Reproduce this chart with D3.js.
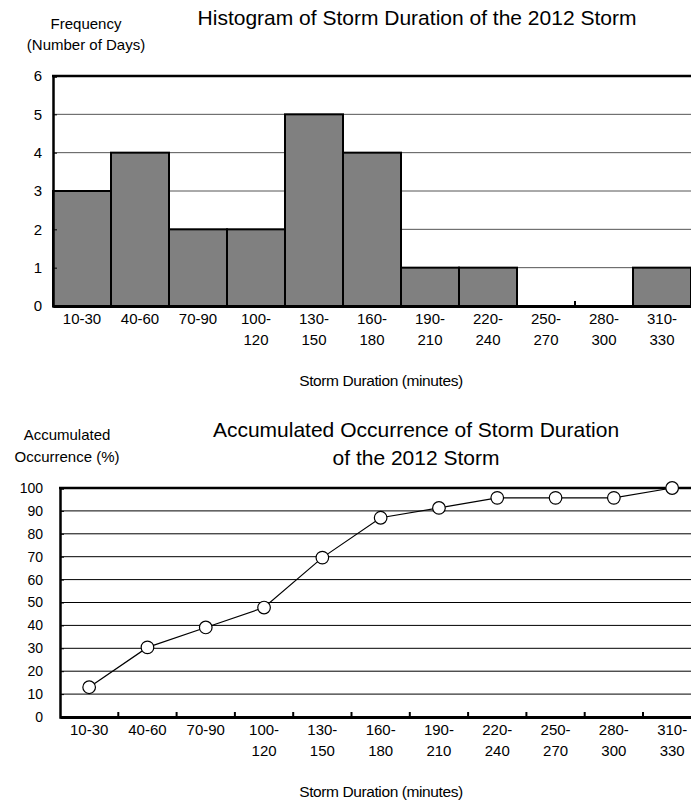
<!DOCTYPE html>
<html>
<head>
<meta charset="utf-8">
<script src="https://cdn.jsdelivr.net/npm/d3@7"></script>
<style>
  body { margin: 0; background: #fff; }
  svg text { font-family: "Liberation Sans", Arial, sans-serif; fill: #000; }
</style>
</head>
<body>
<div class="canva"></div>
<script>
// data
const durations = ['10-30', '40-60', '70-90', '100-120', '130-150', '160-180',
                   '190-210', '220-240', '250-270', '280-300', '310-330']
const days = [3, 4, 2, 2, 5, 4, 1, 1, 0, 0, 1]
const accumulated = [13.0, 30.4, 39.1, 47.8, 69.6, 87.0, 91.3, 95.7, 95.7, 95.7, 100]
const freqTicks = [0, 1, 2, 3, 4, 5, 6]
const accTicks = [0, 10, 20, 30, 40, 50, 60, 70, 80, 90, 100]

const W = 691, H = 800
const svg = d3.select('.canva').append('svg')
              .attr('width', W)
              .attr('height', H)

// split "100-120" into two lines like the original
function catLabel(sel) {
  sel.each(function(d) {
    const t = d3.select(this)
    t.text(null)
    const parts = d.split('-')
    if (Number(parts[0]) < 100) {
      t.append('tspan').attr('x', 0).attr('dy', 0).text(d)
    } else {
      t.append('tspan').attr('x', 0).attr('dy', 0).text(parts[0] + '-')
      t.append('tspan').attr('x', 0).attr('dy', 21).text(parts[1])
    }
  })
}

function label(x, y, size, txt) {
  return svg.append('text')
            .attr('x', x).attr('y', y)
            .attr('text-anchor', 'middle')
            .style('font-size', size + 'px')
            .text(txt)
}

//---------------- Histogram ----------------
const top1 = { left: 53, right: 691, top: 76, bottom: 306 }

const x1 = d3.scaleBand()
             .domain(durations)
             .range([top1.left, top1.right])
             .padding(0)
const y1 = d3.scaleLinear()
             .domain([0, 6])
             .range([top1.bottom, top1.top])

const g1 = svg.append('g')

// gridlines
g1.selectAll('.grid')
  .data(freqTicks.filter(d => d > 0 && d < 6))
  .enter()
  .append('line')
  .attr('x1', top1.left).attr('x2', top1.right)
  .attr('y1', d => y1(d)).attr('y2', d => y1(d))
  .attr('stroke', '#555').attr('stroke-width', 1)

// bars
g1.selectAll('rect')
  .data(days)
  .enter()
  .append('rect')
  .attr('x', (d, i) => x1(durations[i]))
  .attr('y', d => y1(d))
  .attr('width', x1.bandwidth())
  .attr('height', d => top1.bottom - y1(d))
  .attr('fill', '#808080')
  .attr('stroke', '#000')
  .attr('stroke-width', 2)

// axes
const yAxis1 = g1.append('g')
  .attr('transform', `translate(${top1.left},0)`)
  .call(d3.axisLeft(y1).tickValues(freqTicks).tickFormat(d3.format('d')).tickSize(-4).tickPadding(11))
yAxis1.select('.domain').attr('stroke-width', 2.5)
yAxis1.selectAll('text').style('font-size', '15px')

g1.append('line')
  .attr('x1', top1.left - 1).attr('x2', top1.right)
  .attr('y1', top1.top).attr('y2', top1.top)
  .attr('stroke', '#000').attr('stroke-width', 2.5)

const xAxis1 = g1.append('g')
  .attr('transform', `translate(0,${top1.bottom})`)
  .call(d3.axisBottom(x1).tickSize(0).tickPadding(17.5))
xAxis1.select('.domain').attr('stroke-width', 3)
xAxis1.selectAll('text').style('font-size', '15px').call(catLabel)

// boundary ticks pointing inside
g1.selectAll('.btick')
  .data(durations.slice(1))
  .enter()
  .append('line')
  .attr('x1', d => x1(d)).attr('x2', d => x1(d))
  .attr('y1', top1.bottom).attr('y2', top1.bottom - 5)
  .attr('stroke', '#000').attr('stroke-width', 2)

label(417, 25, 21, 'Histogram of Storm Duration of the 2012 Storm')
label(86, 29, 15, 'Frequency')
label(86, 50, 15, '(Number of Days)')
label(381, 386, 15.5, 'Storm Duration (minutes)').style('letter-spacing', '-0.4px')

//---------------- Accumulated occurrence ----------------
const bot = { left: 60, top: 488, bottom: 717 }

const x2 = d3.scaleBand()
             .domain(durations)
             .range([bot.left, bot.left + 58.3 * durations.length])
const y2 = d3.scaleLinear()
             .domain([0, 100])
             .range([bot.bottom, bot.top])

const g2 = svg.append('g')

g2.selectAll('.grid')
  .data(accTicks.filter(d => d > 0 && d < 100))
  .enter()
  .append('line')
  .attr('x1', bot.left).attr('x2', W)
  .attr('y1', d => y2(d)).attr('y2', d => y2(d))
  .attr('stroke', '#000').attr('stroke-width', 1)

const yAxis2 = g2.append('g')
  .attr('transform', `translate(${bot.left},0)`)
  .call(d3.axisLeft(y2).tickValues(accTicks).tickSize(-4).tickPadding(17))
yAxis2.select('.domain').attr('stroke-width', 2.5)
yAxis2.selectAll('text').style('font-size', '14px')

g2.append('line')
  .attr('x1', bot.left - 1).attr('x2', W)
  .attr('y1', bot.top).attr('y2', bot.top)
  .attr('stroke', '#000').attr('stroke-width', 2.5)

const xAxis2 = g2.append('g')
  .attr('transform', `translate(0,${bot.bottom})`)
  .call(d3.axisBottom(x2).tickSize(0).tickPadding(17.5))
xAxis2.select('.domain').attr('stroke-width', 3)
xAxis2.selectAll('text').style('font-size', '15px').call(catLabel)

g2.selectAll('.btick')
  .data(durations.slice(1))
  .enter()
  .append('line')
  .attr('x1', d => x2(d)).attr('x2', d => x2(d))
  .attr('y1', bot.bottom).attr('y2', bot.bottom - 5)
  .attr('stroke', '#000').attr('stroke-width', 2)

const line = d3.line()
  .x((d, i) => x2(durations[i]) + x2.bandwidth() / 2)
  .y(d => y2(d))

g2.append('path')
  .datum(accumulated)
  .attr('d', line)
  .attr('fill', 'none')
  .attr('stroke', '#000')
  .attr('stroke-width', 1.2)

g2.selectAll('circle')
  .data(accumulated)
  .enter()
  .append('circle')
  .attr('cx', (d, i) => x2(durations[i]) + x2.bandwidth() / 2)
  .attr('cy', d => y2(d))
  .attr('r', 6.3)
  .attr('fill', '#fff')
  .attr('stroke', '#000')
  .attr('stroke-width', 1.2)

label(416, 437, 21, 'Accumulated Occurrence of Storm Duration')
label(416, 465, 21, 'of the 2012 Storm')
label(67, 440, 15, 'Accumulated')
label(67, 462, 15, 'Occurrence (%)')
label(381, 797, 15.5, 'Storm Duration (minutes)').style('letter-spacing', '-0.4px')
</script>
</body>
</html>
